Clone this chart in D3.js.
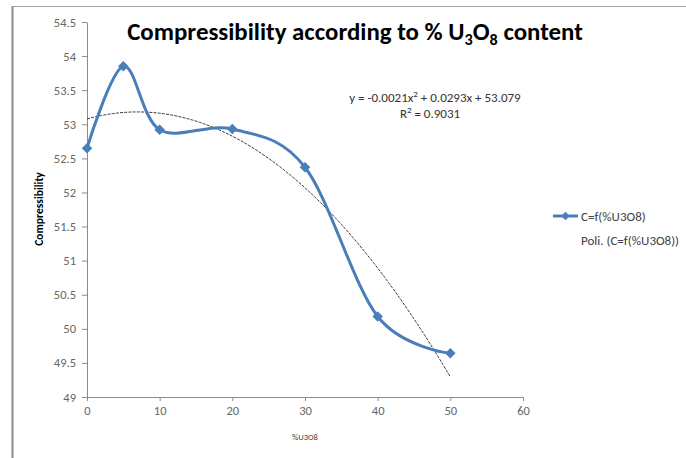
<!DOCTYPE html>
<html><head><meta charset="utf-8">
<script src="https://cdn.jsdelivr.net/npm/d3@7"></script>
<style>
html,body{margin:0;padding:0;background:#fff;}
svg{display:block;}
text{font-family:Carlito,"Liberation Sans Narrow","Liberation Sans",Arial,sans-serif;}
</style></head>
<body>
<svg id="c" width="686" height="458"></svg>
<script>
// ---- data ----
const xValues = [0, 5, 10, 20, 30, 40, 50];
const compressibility = [52.65, 53.85, 52.92, 52.93, 52.37, 50.18, 49.64];
const trendCoeffs = [-0.0021, 0.0293, 53.079]; // a, b, c of polynomial trendline
const trendR2 = 0.9031;
const xTicks = [0, 10, 20, 30, 40, 50, 60];
const yTicks = [49, 49.5, 50, 50.5, 51, 51.5, 52, 52.5, 53, 53.5, 54, 54.5];
const seriesName = "C=f(%U3O8)";
const trendName = "Poli. (C=f(%U3O8))";

const svg = d3.select("#c");
const blue = "#4A7EBB";

// frame
svg.append("line").attr("x1",12).attr("x2",686).attr("y1",6.5).attr("y2",6.5).attr("stroke","#a6a6a6").attr("stroke-width",1);
svg.append("line").attr("x1",12.5).attr("x2",12.5).attr("y1",6).attr("y2",458).attr("stroke","#8c8c8c").attr("stroke-width",2);

const x = d3.scaleLinear().domain([0,60]).range([87,523]);
const y = d3.scaleLinear().domain([49,54.5]).range([397,22]);

const axisColor = "#8c8c8c";
const gx = svg.append("g").attr("transform","translate(0,397)")
  .call(d3.axisBottom(x).tickValues(xTicks).tickSize(4).tickSizeOuter(0).tickFormat(d3.format("d")));
const gy = svg.append("g").attr("transform","translate(87,0)")
  .call(d3.axisLeft(y).tickValues(yTicks).tickSize(5).tickSizeOuter(0).tickFormat(d=>String(d)));
[gx,gy].forEach(g=>{
  g.select(".domain").attr("stroke",axisColor);
  g.selectAll(".tick line").attr("stroke",axisColor);
  g.selectAll(".tick text").attr("fill","#666").style("font-size","12.5px");
});
gx.selectAll(".tick text").attr("dy","0.9em").attr("y",7);
gy.selectAll(".tick text").attr("x",-11);

// trendline
const trendXs = d3.range(0, 50.01, 0.5);
const trendPts = trendXs.map(v => [v, trendCoeffs[0]*v*v + trendCoeffs[1]*v + trendCoeffs[2]]);
svg.append("path").datum(trendPts)
  .attr("d", d3.line().x(d=>x(d[0])).y(d=>y(d[1])))
  .attr("fill","none").attr("stroke","#3a3a3a").attr("stroke-width",1).attr("stroke-dasharray","3,1.2");

// series
const pts = xValues.map((v,i)=>[v, compressibility[i]]);
svg.append("path").datum(pts)
  .attr("d", d3.line().x(d=>x(d[0])).y(d=>y(d[1])).curve(d3.curveCardinal.tension(0)))
  .attr("fill","none").attr("stroke",blue).attr("stroke-width",3).attr("stroke-linejoin","round");
const diamond = d3.symbol().type(d3.symbolDiamond2).size(70);
svg.selectAll(".pt").data(pts).join("path")
  .attr("transform",d=>`translate(${x(d[0])},${y(d[1])})`)
  .attr("d",diamond).attr("fill",blue);

// title
const title = svg.append("text").attr("x",355).attr("y",40).attr("text-anchor","middle")
  .attr("fill","#000").style("font-weight","bold").style("font-size","20px");
title.append("tspan").text("Compressibility according to % U");
title.append("tspan").text("3").attr("dy",5).style("font-size","13px");
title.append("tspan").text("O").attr("dy",-5);
title.append("tspan").text("8").attr("dy",5).style("font-size","13px");
title.append("tspan").text(" content").attr("dy",-5);
{
  const w = title.node().getComputedTextLength();
  const s = 456 / w;
  title.style("font-size", (20*s)+"px");
  title.selectAll("tspan").filter(function(){return this.style.fontSize;}).style("font-size",(13*s)+"px");
}

// axis titles
svg.append("text").attr("transform","translate(43,209) rotate(-90)").attr("text-anchor","middle")
  .style("font-weight","bold").style("font-size","11.5px").attr("fill","#000").text("Compressibility");
svg.append("text").attr("x",305).attr("y",440).attr("text-anchor","middle")
  .style("font-size","8.5px").attr("fill","#404040").text("%U3O8");

// equation
const eq = svg.append("text").attr("x",435).attr("y",102).attr("text-anchor","middle")
  .style("font-size","13px").attr("fill","#333");
eq.append("tspan").text(`y = ${trendCoeffs[0]}x`);
eq.append("tspan").text("2").attr("dy",-5).style("font-size","9px");
eq.append("tspan").text(` + ${trendCoeffs[1]}x + ${trendCoeffs[2]}`).attr("dy",5);
const r2 = svg.append("text").attr("x",430).attr("y",118).attr("text-anchor","middle")
  .style("font-size","13px").attr("fill","#333");
r2.append("tspan").text("R");
r2.append("tspan").text("2").attr("dy",-5).style("font-size","9px");
r2.append("tspan").text(` = ${trendR2}`).attr("dy",5);

// legend
svg.append("line").attr("x1",553).attr("x2",578).attr("y1",216).attr("y2",216).attr("stroke",blue).attr("stroke-width",3);
svg.append("path").attr("transform","translate(565.5,216)").attr("d",d3.symbol().type(d3.symbolDiamond2).size(45)).attr("fill",blue);
svg.append("text").attr("x",581).attr("y",220.5).style("font-size","13px").attr("fill","#404040").text(seriesName);
svg.append("text").attr("x",581).attr("y",244.5).style("font-size","13px").attr("fill","#404040").text(trendName);
</script>
</body></html>
